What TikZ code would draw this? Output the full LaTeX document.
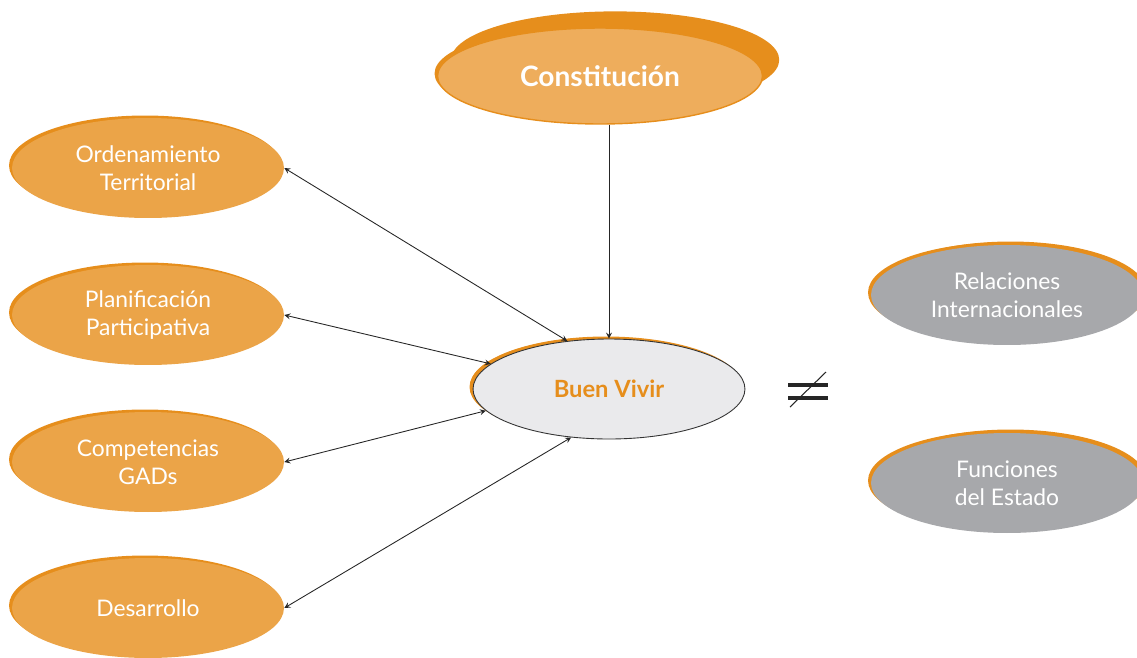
\documentclass[tikz,border=0pt]{standalone}
\usepackage{fontspec}
\setmainfont{Lato}
\usetikzlibrary{shapes.geometric,shadows}
\definecolor{naranja}{HTML}{EBA448}
\definecolor{naranjaclaro}{HTML}{EEAD5C}
\definecolor{sombra}{HTML}{E68E1C}
\definecolor{gris}{HTML}{A7A8AB}
\definecolor{grisclaro}{HTML}{EAEAEC}
\begin{document}
\begin{tikzpicture}[x=0.02cm,y=-0.02cm]
\tikzset{tema/.style={ellipse, fill=naranja, text=white, minimum width=5.44cm, minimum height=2cm, align=center, font=\fontsize{13}{16}\selectfont, general shadow={fill=sombra, shadow xshift=-0.06cm, shadow yshift=0.05cm}}}
\tikzset{ajeno/.style={tema, fill=gris, general shadow={fill=sombra, shadow xshift=0.07cm, shadow yshift=0.07cm}}}
\tikzset{flecha/.style={<->, >=stealth, line width=0.5pt, black!85}}
\clip (0,0) rectangle (1137,657);
\node[tema, minimum width=6.5cm, minimum height=1.92cm, fill=naranjaclaro, draw=sombra, line width=0.8pt, font=\fontsize{16}{19}\selectfont\bfseries, general shadow={fill=sombra, shadow xshift=0.3cm, shadow yshift=0.32cm, shadow scale=1.01}] (C) at (600,76) {Constitución};
\node[tema] (OT) at (148,168) {Ordenamiento\\Territorial};
\node[tema] (PP) at (148,315) {Planificación\\Participativa};
\node[tema] (CG) at (148,462) {Competencias\\GADs};
\node[tema] (DE) at (148,608) {Desarrollo};
\node[tema, fill=grisclaro, draw=black!80, line width=0.5pt, text=sombra, font=\fontsize{13.5}{16}\selectfont\bfseries, general shadow={fill=sombra, shadow xshift=-0.07cm, shadow yshift=0.04cm}] (BV) at (609,389) {Buen Vivir};
\node[ajeno] (RI) at (1007,295) {Relaciones\\Internacionales};
\node[ajeno] (FE) at (1007,483) {Funciones\\del Estado};
\draw[flecha, ->] (BV.north |- C.south) -- (BV.north);
\draw[flecha] (BV.131) -- (OT.east);
\draw[flecha] (BV.168) -- (PP.east);
\draw[flecha] (BV.190) -- (CG.east);
\draw[flecha] (BV.232) -- (DE.east);
\draw[line width=2pt, black!85] (788,385) -- (828,385) (788,398) -- (828,398);
\draw[line width=0.6pt, black!85] (790,407) -- (826,372);
\end{tikzpicture}
\end{document}
